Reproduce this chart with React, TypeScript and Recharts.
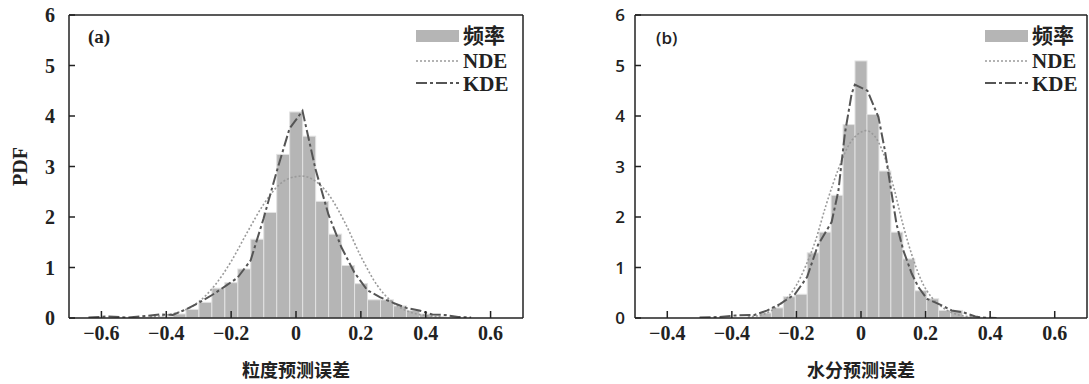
import React from 'react'
import { ComposedChart, Bar, Line, XAxis, YAxis, ReferenceLine, Label } from 'recharts'

const xTicks = [-0.6, -0.4, -0.2, 0, 0.2, 0.4, 0.6]
const yTicks = [0, 1, 2, 3, 4, 5, 6]
const leftTickLabels = ['−0.6', '−0.4', '−0.2', '0', '0.2', '0.4', '0.6']
const rightTickLabels = ['−0.4', '−0.4', '−0.2', '0', '0.2', '0.4', '0.6']

// (a) 粒度
const leftBinX = [-0.48, -0.44, -0.4, -0.36, -0.32, -0.28, -0.24, -0.2, -0.16, -0.12, -0.08, -0.04, 0,
  0.04, 0.08, 0.12, 0.16, 0.2, 0.24, 0.28, 0.32, 0.36, 0.4, 0.44, 0.48]
const leftFreq = [0.01, 0.02, 0.03, 0.08, 0.17, 0.31, 0.59, 0.7, 0.97, 1.56, 2.09, 3.24, 4.08,
  3.6, 2.31, 1.66, 1.04, 0.68, 0.36, 0.36, 0.24, 0.15, 0.08, 0.03, 0.01]
const leftNdeX = [-0.45, -0.4, -0.35, -0.3, -0.25, -0.2, -0.15, -0.1, -0.05, 0, 0.02, 0.05, 0.1, 0.15,
  0.2, 0.25, 0.3, 0.35, 0.4, 0.45]
const leftNde = [0.02, 0.06, 0.14, 0.32, 0.65, 1.12, 1.7, 2.25, 2.65, 2.8, 2.81, 2.75, 2.45, 1.9,
  1.22, 0.65, 0.3, 0.12, 0.05, 0.02]
const leftKdeX = [-0.64, -0.58, -0.52, -0.46, -0.42, -0.38, -0.34, -0.3, -0.26, -0.22, -0.18, -0.14,
  -0.1, -0.06, -0.02, 0.02, 0.06, 0.1, 0.14, 0.18, 0.22, 0.26, 0.3, 0.34, 0.38, 0.42, 0.46, 0.5, 0.54]
const leftKde = [0.01, 0.03, 0.01, 0.04, 0.07, 0.06, 0.17, 0.3, 0.45, 0.62, 0.8, 1.14,
  1.97, 2.89, 3.75, 4.1, 2.95, 2.05, 1.4, 0.9, 0.55, 0.41, 0.3, 0.2, 0.15, 0.07, 0.06, 0.02, 0.01]

// (b) 水分
const rightBinX = [-0.333, -0.296, -0.259, -0.222, -0.185, -0.148, -0.111, -0.074, -0.037, 0,
  0.037, 0.074, 0.111, 0.148, 0.185, 0.222, 0.259, 0.296, 0.333]
const rightFreq = [0.02, 0.1, 0.2, 0.42, 0.47, 1.29, 1.7, 2.43, 3.83, 5.09,
  4.03, 2.91, 1.7, 1.17, 0.54, 0.38, 0.15, 0.15, 0.03]
const rightNdeX = [-0.35, -0.3, -0.25, -0.2, -0.17, -0.14, -0.11, -0.07, -0.04, 0, 0.015, 0.04, 0.07,
  0.1, 0.13, 0.16, 0.19, 0.22, 0.25, 0.28, 0.31, 0.35]
const rightNde = [0.02, 0.08, 0.27, 0.65, 1.05, 1.55, 2.2, 2.95, 3.4, 3.68, 3.71, 3.62, 3.25,
  2.62, 1.85, 1.2, 0.7, 0.4, 0.22, 0.11, 0.05, 0.02]
const rightKdeX = [-0.5, -0.44, -0.39, -0.33, -0.29, -0.25, -0.205, -0.167, -0.133, -0.091, -0.07, -0.05,
  -0.029, -0.019, 0.02, 0.054, 0.074, 0.09, 0.11, 0.131, 0.157, 0.178, 0.204, 0.24, 0.281, 0.318, 0.354, 0.374, 0.42]
const rightKde = [0.01, 0.02, 0.05, 0.06, 0.15, 0.28, 0.47, 0.81, 1.45, 1.9, 2.52, 3.65,
  4.44, 4.62, 4.5, 3.98, 3.32, 2.66, 1.86, 1.34, 0.88, 0.61, 0.38, 0.28, 0.15, 0.11, 0.03, 0.01, 0]

const serif = '"Liberation Serif", "Noto Sans CJK SC", serif'
const sans = '"Open Sans", sans-serif'
const barColor = '#b5b5b5'
const ndeColor = '#9a9a9a'
const kdeColor = '#555555'

function buildRows(binX: number[], freq: number[], ndeX: number[], nde: number[], kdeX: number[], kde: number[]) {
  const rows = new Map<number, any>()
  const get = (x: number) => {
    const k = Math.round(x * 10000) / 10000
    if (!rows.has(k)) rows.set(k, { x: k })
    return rows.get(k)
  }
  binX.forEach((x, i) => { get(x).freq = freq[i] })
  ndeX.forEach((x, i) => { get(x).nde = nde[i] })
  kdeX.forEach((x, i) => { get(x).kde = kde[i] })
  return [...rows.values()].sort((a, b) => a.x - b.x)
}

// bar shape: keep the scale's center and height, but use the bin's pixel width
const binShape = (binPx: number) => (props: any) => {
  const { x, y, width, height } = props
  if (height == null || isNaN(height) || height <= 0) return <g />
  const cx = x + width / 2
  return <rect x={cx - binPx / 2} y={y} width={binPx} height={height} fill={barColor} stroke="#e2e2e2" strokeWidth={1} />
}

function LegendBox({ left }: { left: number }) {
  const txt: React.CSSProperties = { position: 'absolute', left: 47, fontFamily: serif, fontWeight: 'bold', fontSize: 21, lineHeight: '22px', color: '#222' }
  return (
    <div style={{ position: 'absolute', left, top: 26, width: 110, height: 72 }}>
      <div style={{ position: 'absolute', left: 0, top: 4, width: 43, height: 12, background: barColor }} />
      <div style={{ ...txt, top: -1 }}>频率</div>
      <svg style={{ position: 'absolute', left: 0, top: 30 }} width={44} height={10}>
        <line x1={0} y1={5} x2={43} y2={5} stroke={ndeColor} strokeWidth={1.6} strokeDasharray="2 2" />
      </svg>
      <div style={{ ...txt, top: 24 }}>NDE</div>
      <svg style={{ position: 'absolute', left: 0, top: 52 }} width={44} height={10}>
        <line x1={0} y1={5} x2={43} y2={5} stroke={kdeColor} strokeWidth={2} strokeDasharray="11 3 3 3" />
      </svg>
      <div style={{ ...txt, top: 47 }}>KDE</div>
    </div>
  )
}

type PanelProps = {
  rows: any[]
  width: number
  yAxisWidth: number
  marginRight: number
  tickLabels: string[]
  xTitle: string
  yTitle?: string
  binPx: number
  yTickFamily: string
  yTickWeight: any
  yTickSize: number
  yTickMargin: number
}

function Panel(p: PanelProps) {
  return (
    <ComposedChart width={p.width} height={384} data={p.rows}
      margin={{ top: 15, right: p.marginRight, left: 0, bottom: 0 }}>
      <XAxis dataKey="x" type="number" domain={[-0.7, 0.7]} ticks={xTicks} allowDataOverflow
        tickFormatter={(v: number) => p.tickLabels[xTicks.findIndex(t => Math.abs(t - v) < 1e-6)] ?? ''}
        height={66} tickSize={-7} tickMargin={15}
        axisLine={{ stroke: '#222', strokeWidth: 1.5 }} tickLine={{ stroke: '#222', strokeWidth: 1.5 }}
        tick={{ fill: '#222', fontFamily: serif, fontWeight: 'bold', fontSize: 20, style: { fontFamily: serif, fontWeight: 'bold' } }}>
        <Label value={p.xTitle} position="insideBottom" offset={7}
          style={{ fill: '#222', fontFamily: '"Noto Sans CJK SC", sans-serif', fontWeight: 'bold', fontSize: 18 }} />
      </XAxis>
      <YAxis type="number" domain={[0, 6]} ticks={yTicks} width={p.yAxisWidth} allowDataOverflow
        tickSize={-6} tickMargin={p.yTickMargin}
        axisLine={{ stroke: '#222', strokeWidth: 1.5 }} tickLine={{ stroke: '#222', strokeWidth: 1.5 }}
        tick={{ fill: '#222', fontFamily: p.yTickFamily, fontWeight: p.yTickWeight, fontSize: p.yTickSize,
          style: { fontFamily: p.yTickFamily, fontWeight: p.yTickWeight } }}>
        {p.yTitle ? (
          <Label value={p.yTitle} angle={-90} position="insideLeft" offset={20}
            style={{ textAnchor: 'middle', fill: '#222', fontFamily: serif, fontWeight: 'bold', fontSize: 20 }} />
        ) : null}
      </YAxis>
      <ReferenceLine y={6} stroke="#222" strokeWidth={1.5} />
      <ReferenceLine x={0.7} stroke="#222" strokeWidth={1.5} />
      <Bar dataKey="freq" fill={barColor} shape={binShape(p.binPx)} isAnimationActive={false} />
      <Line dataKey="nde" type="monotone" stroke={ndeColor} strokeWidth={1.6} strokeDasharray="2 2"
        dot={false} connectNulls isAnimationActive={false} />
      <Line dataKey="kde" type="linear" stroke={kdeColor} strokeWidth={2} strokeDasharray="11 3 3 3"
        dot={false} connectNulls isAnimationActive={false} />
    </ComposedChart>
  )
}

export default function App() {
  const leftRows = buildRows(leftBinX, leftFreq, leftNdeX, leftNde, leftKdeX, leftKde)
  const rightRows = buildRows(rightBinX, rightFreq, rightNdeX, rightNde, rightKdeX, rightKde)
  const tag: React.CSSProperties = { position: 'absolute', top: 26, fontWeight: 'bold', fontSize: 19, color: '#222' }
  return (
    <div style={{ position: 'absolute', left: 0, top: 0, width: 1089, height: 384, background: '#fff', overflow: 'hidden',
      fontFamily: serif, fontWeight: 'bold' }}>
      <div style={{ position: 'absolute', left: 0, top: 0 }}>
        <Panel rows={leftRows} width={540} yAxisWidth={69} marginRight={17} tickLabels={leftTickLabels}
          xTitle="粒度预测误差" yTitle="PDF" binPx={13} yTickMargin={20}
          yTickFamily={serif} yTickWeight="bold" yTickSize={20} />
      </div>
      <div style={{ position: 'absolute', left: 560, top: 0 }}>
        <Panel rows={rightRows} width={529} yAxisWidth={75} marginRight={2} tickLabels={rightTickLabels}
          xTitle="水分预测误差" binPx={12} yTickMargin={16}
          yTickFamily={sans} yTickWeight={600} yTickSize={17} />
      </div>
      <div style={{ ...tag, left: 88, fontFamily: serif }}>(a)</div>
      <div style={{ ...tag, left: 656, fontFamily: sans, fontWeight: 600, fontSize: 17 }}>(b)</div>
      <LegendBox left={416} />
      <LegendBox left={985} />
    </div>
  )
}
